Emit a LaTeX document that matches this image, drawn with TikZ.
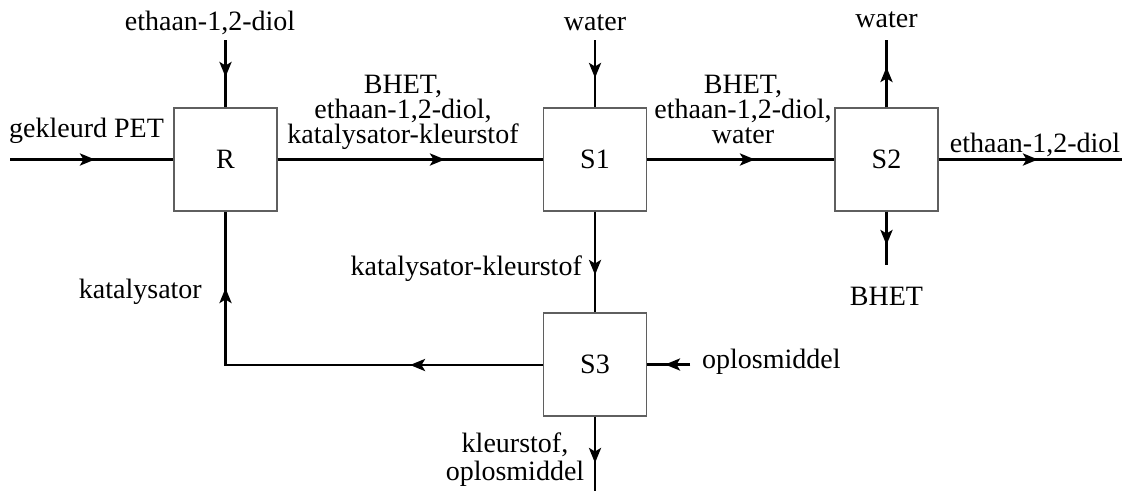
\documentclass[tikz,border=0pt]{standalone}
\usepackage{fontspec}
\setmainfont{Liberation Serif}
\usetikzlibrary{arrows.meta}
\definecolor{boxgray}{RGB}{95,95,95}
\begin{document}
\begin{tikzpicture}[x=1pt,y=-1pt,
  box/.style={draw=boxgray, line width=1.3pt, fill=white, minimum width=103pt,
    minimum height=103pt, inner sep=0pt, font=\fontsize{28}{25}\selectfont},
  flow/.style={line width=2.8pt},
  arr/.style={line width=2.8pt, -{Stealth[length=15pt,width=12pt,inset=3.5pt]}},
  lbl/.style={font=\fontsize{28}{25}\selectfont, inner sep=0pt, align=center}]
\useasboundingbox (0,0) rectangle (1129,491);

% boxes
\node[box] (R)  at (225.5,159.5) {R};
\node[box] (S1) at (595,159.5) {S1};
\node[box] (S2) at (886.5,159.5) {S2};
\node[box] (S3) at (595,364.5) {S3};

% free ends and arrow tip points
\coordinate (pin)   at (10,159.5);
\coordinate (pinT)  at (95,159.5);
\coordinate (ein)   at (225.5,40);
\coordinate (einT)  at (225.5,77);
\coordinate (rsT)   at (445,159.5);
\coordinate (win)   at (595,40);
\coordinate (winT)  at (595,78);
\coordinate (ssT)   at (755,159.5);
\coordinate (wout)  at (886.5,40);
\coordinate (woutT) at (886.5,67);
\coordinate (bout)  at (886.5,265);
\coordinate (boutT) at (886.5,245);
\coordinate (eout)  at (1122,159.5);
\coordinate (eoutT) at (1038,159.5);
\coordinate (s13T)  at (595,275);
\coordinate (corner) at (225.5,365);
\coordinate (retT)  at (410,365);
\coordinate (upT)   at (225.5,288);
\coordinate (oin)   at (690,364.5);
\coordinate (oinT)  at (665,364.5);
\coordinate (kout)  at (595,491);
\coordinate (koutT) at (595,463);

% connectors (full lines)
\draw[flow] (pin) -- (R.west);
\draw[flow] (ein) -- (R.north);
\draw[flow] (R.east) -- (S1.west);
\draw[flow] (win) -- (S1.north);
\draw[flow] (S1.east) -- (S2.west);
\draw[flow] (S2.north) -- (wout);
\draw[flow] (S2.south) -- (bout);
\draw[flow] (S2.east) -- (eout);
\draw[flow] (S1.south) -- (S3.north);
\draw[flow, line join=miter] (S3.west |- corner) -- (corner) -- (R.south);
\draw[flow] (oin) -- (S3.east);
\draw[flow] (S3.south) -- (kout);
% arrowheads
\draw[arr] (pin) -- (pinT);
\draw[arr] (ein) -- (einT);
\draw[arr] (R.east) -- (rsT);
\draw[arr] (win) -- (winT);
\draw[arr] (S1.east) -- (ssT);
\draw[arr] (S2.north) -- (woutT);
\draw[arr] (S2.south) -- (boutT);
\draw[arr] (S2.east) -- (eoutT);
\draw[arr] (S1.south) -- (s13T);
\draw[arr] (S3.west |- corner) -- (retT);
\draw[arr] (corner) -- (upT);
\draw[arr] (oin) -- (oinT);
\draw[arr] (S3.south) -- (koutT);

% labels
\node[lbl, anchor=base] (l1) at (210,30) {ethaan-1,2-diol};
\node[lbl, anchor=base west] (l2) at (9,137) {gekleurd PET};
\node[lbl, anchor=base] (l3) at (595,30) {water};
\node[lbl, anchor=base] (l4) at (886.5,27) {water};
\node[lbl, anchor=base] (l5) at (403,143) {BHET,\\ethaan-1,2-diol,\\katalysator-kleurstof};
\node[lbl, anchor=base] (l6) at (743,143) {BHET,\\ethaan-1,2-diol,\\water};
\node[lbl, anchor=base] (l7) at (1035,152) {ethaan-1,2-diol};
\node[lbl, anchor=base] (l8) at (886.5,305) {BHET};
\node[lbl, anchor=base east] (l9) at (582,275) {katalysator-kleurstof};
\node[lbl, anchor=base east] (l10) at (202,298) {katalysator};
\node[lbl, anchor=base, font=\fontsize{28}{28}\selectfont] (l11) at (515,480) {kleurstof,\\oplosmiddel};
\node[lbl, anchor=base west] (l12) at (702,368) {oplosmiddel};
\end{tikzpicture}
\end{document}
